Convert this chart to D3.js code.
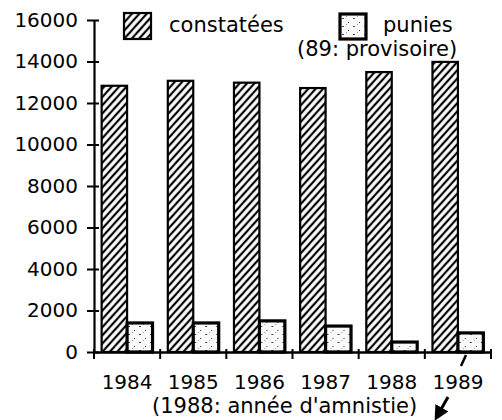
<!DOCTYPE html>
<html>
<head>
<meta charset="utf-8">
<script src="https://cdn.jsdelivr.net/npm/d3@7"></script>
<style>
  body { margin: 0; background: #fff; }
  svg { font-family: "DejaVu Sans", sans-serif; }
</style>
</head>
<body>
<svg width="502" height="420"></svg>
<script>
var years = ['1984', '1985', '1986', '1987', '1988', '1989'];
var constatees = [12830, 13070, 12980, 12720, 13490, 13980];
var punies = [1400, 1400, 1500, 1250, 480, 920];
var yTicks = [0, 2000, 4000, 6000, 8000, 10000, 12000, 14000, 16000];
var keys = ['constatees', 'punies'];

var data = years.map(function (y, i) {
    return { year: y, constatees: constatees[i], punies: punies[i] };
});

var svg = d3.select("svg");
var margin = { top: 20, right: 11, bottom: 68, left: 94 };
var width = +svg.attr("width") - margin.left - margin.right;
var height = +svg.attr("height") - margin.top - margin.bottom;

// patterns
var defs = svg.append("defs");
var hatch = defs.append("pattern")
    .attr("id", "hatch")
    .attr("patternUnits", "userSpaceOnUse")
    .attr("width", 5.5)
    .attr("height", 5.5)
    .attr("patternTransform", "rotate(42)");
hatch.append("rect").attr("width", 5.5).attr("height", 5.5).attr("fill", "#fff");
hatch.append("line")
    .attr("x1", 2.75).attr("y1", 0).attr("x2", 2.75).attr("y2", 5.5)
    .attr("stroke", "#000").attr("stroke-width", 2.2);

var speck = defs.append("pattern")
    .attr("id", "speck")
    .attr("patternUnits", "userSpaceOnUse")
    .attr("width", 11)
    .attr("height", 8);
speck.append("rect").attr("width", 11).attr("height", 8).attr("fill", "#fafafa");
speck.append("rect").attr("x", 1).attr("y", 2).attr("width", 2).attr("height", 1).attr("fill", "#444");
speck.append("rect").attr("x", 7).attr("y", 6).attr("width", 1).attr("height", 1).attr("fill", "#333");
speck.append("rect").attr("x", 5).attr("y", 0).attr("width", 1).attr("height", 1).attr("fill", "#999");

var fills = { constatees: "url(#hatch)", punies: "url(#speck)" };
var strokeW = { constatees: 2.2, punies: 3.2 };

var g = svg.append("g").attr("transform", "translate(" + margin.left + "," + margin.top + ")");

var x0 = d3.scaleBand().domain(years).range([0, width]).padding(0);
var x1 = d3.scaleBand().domain(keys).range([0, x0.bandwidth()]).paddingInner(0).paddingOuter(0.3);
var y = d3.scaleLinear().domain([0, 16000]).range([height, 0]);

// bars
var groups = g.selectAll(".year").data(data).enter().append("g")
    .attr("class", "year")
    .attr("transform", function (d) { return "translate(" + x0(d.year) + ",0)"; });

groups.selectAll("rect")
    .data(function (d) { return keys.map(function (k) { return { key: k, value: d[k] }; }); })
    .enter().append("rect")
    .attr("x", function (d) { return x1(d.key); })
    .attr("y", function (d) { return y(d.value); })
    .attr("width", x1.bandwidth())
    .attr("height", function (d) { return height - y(d.value); })
    .attr("fill", function (d) { return fills[d.key]; })
    .attr("stroke", "#000")
    .attr("stroke-width", function (d) { return strokeW[d.key]; });

// y axis
var yAxis = g.append("g")
    .call(d3.axisLeft(y).tickValues(yTicks).tickSize(0).tickPadding(16).tickFormat(d3.format("d")));
yAxis.select(".domain").attr("stroke-width", 2.2);
yAxis.selectAll(".tick text")
    .style("font-size", "20px")
    .style("font-family", "DejaVu Sans")
    .attr("fill", "#000");
yAxis.selectAll(".tick").append("line")
    .attr("x1", -7).attr("x2", 5)
    .attr("stroke", "#000").attr("stroke-width", 2);

// x axis
var xAxis = g.append("g")
    .attr("transform", "translate(0," + height + ")")
    .call(d3.axisBottom(x0).tickSize(0).tickPadding(23));
xAxis.select(".domain").attr("stroke-width", 2.5);
xAxis.selectAll(".tick text")
    .style("font-size", "20px")
    .style("font-family", "DejaVu Sans")
    .attr("fill", "#000");

var bounds = years.map(function (d) { return x0(d); }).concat([x0(years[years.length - 1]) + x0.bandwidth()]);
xAxis.selectAll(".bound").data(bounds).enter().append("line")
    .attr("class", "bound")
    .attr("x1", function (d) { return d; })
    .attr("x2", function (d) { return d; })
    .attr("y1", -3).attr("y2", 7)
    .attr("stroke", "#000").attr("stroke-width", 2);

// legend
var legend = svg.append("g");
legend.append("rect")
    .attr("x", 124).attr("y", 13).attr("width", 27).attr("height", 26)
    .attr("fill", "url(#hatch)").attr("stroke", "#000").attr("stroke-width", 2.2);
legend.append("text")
    .attr("x", 169).attr("y", 32)
    .style("font-size", "21px")
    .text("constatées");
legend.append("rect")
    .attr("x", 340).attr("y", 14).attr("width", 26).attr("height", 25)
    .attr("fill", "url(#speck)").attr("stroke", "#000").attr("stroke-width", 3.2);
legend.append("text")
    .attr("x", 383).attr("y", 32)
    .style("font-size", "21px")
    .text("punies");
legend.append("text")
    .attr("x", 297).attr("y", 56)
    .style("font-size", "21px")
    .text("(89: provisoire)");

// note below
svg.append("text")
    .attr("x", 152).attr("y", 413)
    .style("font-size", "21px")
    .text("(1988: année d'amnistie)");

// little marks near 1989
defs.append("marker")
    .attr("id", "head")
    .attr("viewBox", "0 0 10 10")
    .attr("refX", 4).attr("refY", 5)
    .attr("markerWidth", 5).attr("markerHeight", 5)
    .attr("orient", "auto")
    .append("path").attr("d", "M0,0 L10,5 L0,10 z").attr("fill", "#000");

svg.append("line")
    .attr("x1", 466).attr("y1", 355).attr("x2", 461).attr("y2", 366)
    .attr("stroke", "#000").attr("stroke-width", 2.5);
svg.append("line")
    .attr("x1", 448).attr("y1", 397).attr("x2", 439).attr("y2", 413)
    .attr("stroke", "#000").attr("stroke-width", 3)
    .attr("marker-end", "url(#head)");
</script>
</body>
</html>
